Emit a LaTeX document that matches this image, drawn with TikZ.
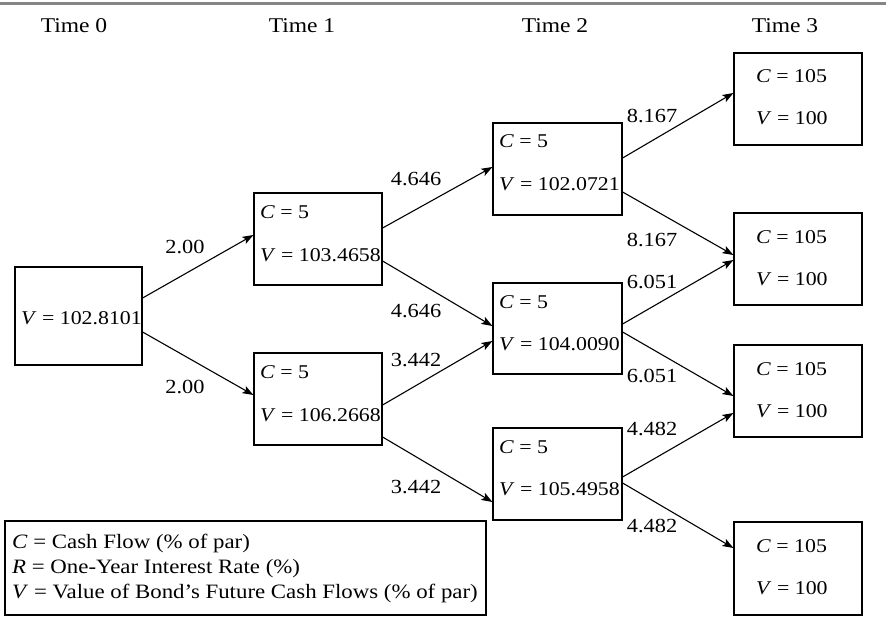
\documentclass[tikz,border=0pt]{standalone}
\usepackage{fontspec}
\setmainfont{Liberation Serif}[FakeStretch=1.12]
\usetikzlibrary{arrows.meta}
\newcommand{\fsz}{\fontsize{19.5}{24}\selectfont}
\newcommand{\fsr}{\fontsize{20}{24}\selectfont}
\newcommand{\fst}{\fontsize{21}{24}\selectfont}
\newcommand{\fsl}{\fontsize{20.4}{24}\selectfont}
\begin{document}
\begin{tikzpicture}[x=1pt,y=-1pt,
  box/.style={draw, line width=1.2pt, inner sep=0pt, minimum width=128pt, minimum height=92pt},
  txt/.style={anchor=base west, inner sep=0pt, font=\fsz},
  lab/.style={anchor=base, inner sep=0pt, font=\fsr},
  tlab/.style={anchor=base, inner sep=0pt, font=\fst},
  leg/.style={anchor=base west, inner sep=0pt, font=\fsl},
  arr/.style={line width=1.1pt, -{Stealth[length=11pt,width=8pt,inset=2.5pt]}}]
\useasboundingbox (0,0) rectangle (886,623);
\draw[line width=3.5pt, black!48] (0,3.5) -- (886,3.5);
% time labels
\node[tlab] (t0) at (74,33) {Time 0};
\node[tlab] (t1) at (302,33) {Time 1};
\node[tlab] (t2) at (555,33) {Time 2};
\node[tlab] (t3) at (785,33) {Time 3};
% boxes
\node[box, minimum width=127pt, minimum height=98pt] (b0) at (78.5,316) {};
\node[box] (b1u) at (318,239) {};
\node[box] (b1d) at (318,399) {};
\node[box, minimum width=129pt] (b2t) at (557.5,169) {};
\node[box, minimum width=129pt, minimum height=91pt] (b2m) at (557.5,328.5) {};
\node[box, minimum width=129pt] (b2b) at (557.5,474) {};
\node[box] (b3a) at (798,99) {};
\node[box] (b3b) at (798,259) {};
\node[box] (b3c) at (798,391) {};
\node[box, minimum height=93pt] (b3d) at (798,568.5) {};
% box texts
\node[txt] (v0) at (21,324) {\textit{V} = 102.8101};
\node[txt] (c1u) at (260,218) {\textit{C} = 5};
\node[txt] (v1u) at (260,261) {\textit{V} = 103.4658};
\node[txt] (c1d) at (260,378) {\textit{C} = 5};
\node[txt] (v1d) at (260,421) {\textit{V} = 106.2668};
\node[txt] (c2t) at (499,148) {\textit{C} = 5};
\node[txt] (v2t) at (499,190) {\textit{V} = 102.0721};
\node[txt] (c2m) at (499,308) {\textit{C} = 5};
\node[txt] (v2m) at (499,350) {\textit{V} = 104.0090};
\node[txt] (c2b) at (499,453) {\textit{C} = 5};
\node[txt] (v2b) at (499,495) {\textit{V} = 105.4958};
\node[txt] (c3a) at (756,83) {\textit{C} = 105};
\node[txt] (v3a) at (756,125) {\textit{V} = 100};
\node[txt] (c3b) at (756,243) {\textit{C} = 105};
\node[txt] (v3b) at (756,285) {\textit{V} = 100};
\node[txt] (c3c) at (756,375) {\textit{C} = 105};
\node[txt] (v3c) at (756,417) {\textit{V} = 100};
\node[txt] (c3d) at (756,552) {\textit{C} = 105};
\node[txt] (v3d) at (756,594) {\textit{V} = 100};
% arrows
\draw[arr] ([yshift=18pt]b0.east) -- ([yshift=4pt]b1u.west);
\draw[arr] ([yshift=-16pt]b0.east) -- ([yshift=4pt]b1d.west);
\draw[arr] ([yshift=11pt]b1u.east) -- ([yshift=2pt]b2t.west);
\draw[arr] ([yshift=-22pt]b1u.east) -- ([yshift=2.5pt]b2m.west);
\draw[arr] ([yshift=-6pt]b1d.east) -- ([yshift=-12.5pt]b2m.west);
\draw[arr] ([yshift=-38pt]b1d.east) -- ([yshift=-28pt]b2b.west);
\draw[arr] ([yshift=11pt]b2t.east) -- ([yshift=6pt]b3a.west);
\draw[arr] ([yshift=-23pt]b2t.east) -- ([yshift=4pt]b3b.west);
\draw[arr] ([yshift=4.5pt]b2m.east) -- ([yshift=-1pt]b3b.west);
\draw[arr] ([yshift=-3.5pt]b2m.east) -- ([yshift=-5pt]b3c.west);
\draw[arr] ([yshift=-3pt]b2b.east) -- ([yshift=-22pt]b3c.west);
\draw[arr] ([yshift=-9pt]b2b.east) -- ([yshift=20.5pt]b3d.west);
% arrow labels
\node[lab] (r1u) at (185,253) {2.00};
\node[lab] (r1d) at (185,393) {2.00};
\node[lab] (r2a) at (416,185) {4.646};
\node[lab] (r2b) at (416,317) {4.646};
\node[lab] (r2c) at (416,366) {3.442};
\node[lab] (r2d) at (416,493) {3.442};
\node[lab] (r3a) at (652,123) {8.167};
\node[lab] (r3b) at (652,246) {8.167};
\node[lab] (r3c) at (652,288) {6.051};
\node[lab] (r3d) at (652,382) {6.051};
\node[lab] (r3e) at (652,435) {4.482};
\node[lab] (r3f) at (652,532) {4.482};
% legend
\node[draw, line width=1.2pt, inner sep=0pt, minimum width=481pt, minimum height=94pt] (lg) at (245.5,568) {};
\node[leg] (lg1) at (12,548) {\textit{C} = Cash Flow (\% of par)};
\node[leg] (lg2) at (12,573) {\textit{R} = One-Year Interest Rate (\%)};
\node[leg] (lg3) at (12,598) {\textit{V} = Value of Bond’s Future Cash Flows (\% of par)};
\end{tikzpicture}
\end{document}
